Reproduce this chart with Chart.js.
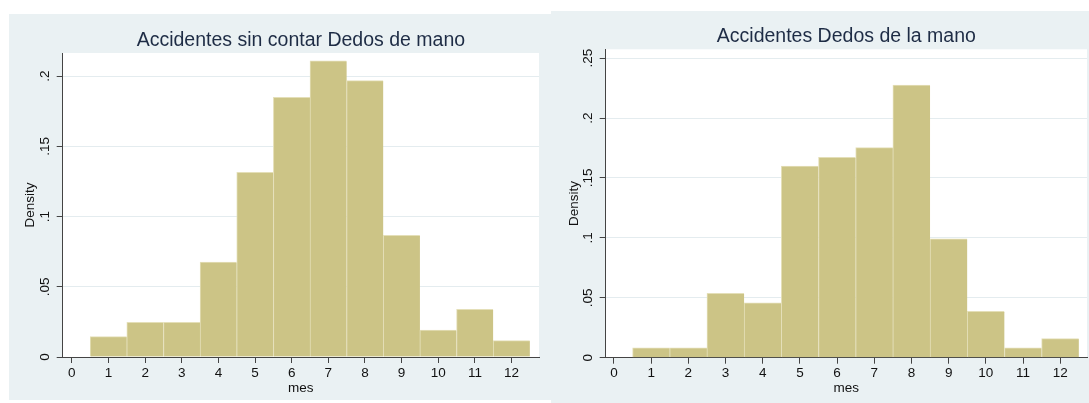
<!DOCTYPE html>
<html>
<head>
<meta charset="utf-8">
<script src="https://cdn.jsdelivr.net/npm/chart.js@4.4.1/dist/chart.umd.min.js"></script>
<style>
  html, body { margin: 0; padding: 0; background: #ffffff; width: 1089px; height: 403px; overflow: hidden; }
  .panel { position: absolute; background: #EAF1F3; }
  #p1 { left: 9px; top: 14px; width: 542px; height: 386px; }
  #p2 { left: 551px; top: 11px; width: 538px; height: 392px; }
  canvas { display: block; }
</style>
</head>
<body>
<div class="panel" id="p1"><canvas id="c1" width="542" height="386"></canvas></div>
<div class="panel" id="p2"><canvas id="c2" width="538" height="392"></canvas></div>
<script>
// Histogram bins: one bar per month (bin width 1, centred on the month number)
const months = [1, 2, 3, 4, 5, 6, 7, 8, 9, 10, 11, 12];

// Density per month, accidents excluding hand fingers
const densitySinDedos = [0.0145, 0.0247, 0.0247, 0.0676, 0.1314, 0.1848, 0.2109, 0.1967, 0.0866, 0.0192, 0.0339, 0.0116];

// Density per month, hand-finger accidents
const densityDedos = [0.0083, 0.0083, 0.0537, 0.0459, 0.1600, 0.1673, 0.1753, 0.2276, 0.0993, 0.0387, 0.0083, 0.0159];

// Axis ticks and their labels
const xTicks = [0, 1, 2, 3, 4, 5, 6, 7, 8, 9, 10, 11, 12];
const yTicksSinDedos = [0, 0.05, 0.1, 0.15, 0.2];
const yTickLabelsSinDedos = ['0', '.05', '.1', '.15', '.2'];
const yTicksDedos = [0, 0.05, 0.1, 0.15, 0.2, 0.25];
const yTickLabelsDedos = ['0', '.05', '.1', '.15', '.2', '.25'];

const titleSinDedos = 'Accidentes sin contar Dedos de mano';
const titleDedos = 'Accidentes Dedos de la mano';
const xTitle = 'mes';
const yTitle = 'Density';

// Styling
const FONT = '"Liberation Sans", Arial, sans-serif';
const BAR_FILL = '#CCC486';
const BAR_EDGE = '#E4DFB8';
const AXIS = '#444444';
const GRID = '#E4ECEF';
const TEXT = '#111111';
const TITLE_COLOR = '#1E2C45';

// White plot region behind the bars
const plotBg = {
  id: 'plotBg',
  beforeDraw(chart) {
    const { ctx, chartArea: a } = chart;
    ctx.save();
    ctx.fillStyle = '#ffffff';
    ctx.fillRect(a.left, a.top, a.right - a.left, a.bottom - a.top);
    ctx.restore();
  }
};

function makeHistogram(canvasId, title, values, yTicks, yLabels, g) {
  return new Chart(document.getElementById(canvasId), {
    type: 'bar',
    data: {
      datasets: [{
        data: months.map((m, i) => ({ x: m, y: values[i] })),
        backgroundColor: BAR_FILL,
        borderColor: BAR_EDGE,
        borderWidth: { top: 1, left: 1, right: 0, bottom: 0 },
        barPercentage: 1,
        categoryPercentage: 1
      }]
    },
    options: {
      responsive: false,
      animation: false,
      devicePixelRatio: 1,
      layout: { padding: { top: g.padTop, left: 0, right: g.padRight, bottom: 0 } },
      plugins: {
        legend: { display: false },
        tooltip: { enabled: false },
        title: {
          display: true,
          text: title,
          fullSize: false,
          color: TITLE_COLOR,
          font: { family: FONT, size: 19.5, weight: 'normal' },
          padding: { top: 0, bottom: g.titleGap }
        }
      },
      scales: {
        x: {
          type: 'linear',
          offset: false,
          min: g.xMin,
          max: g.xMax,
          afterBuildTicks: s => { s.ticks = xTicks.map(v => ({ value: v })); },
          afterFit: s => { s.height = g.xAxisH; },
          grid: { display: true, offset: false, drawOnChartArea: false, drawTicks: true, tickLength: 6, tickColor: AXIS, tickWidth: 1 },
          border: { display: true, color: AXIS, width: 1 },
          ticks: {
            color: TEXT, font: { family: FONT, size: 13.5 }, padding: g.xTickPad,
            maxRotation: 0, minRotation: 0, autoSkip: false,
            callback: v => String(v)
          },
          title: {
            display: true, text: xTitle, color: TEXT,
            font: { family: FONT, size: 13.5 }, padding: { top: 0, bottom: g.xTitlePad }
          }
        },
        y: {
          min: 0,
          max: g.yMax,
          afterBuildTicks: s => { s.ticks = yTicks.map(v => ({ value: v })); },
          afterFit: s => { s.width = g.yAxisW; },
          grid: { color: GRID, lineWidth: 1, drawTicks: true, tickLength: 6, tickColor: AXIS, tickWidth: 1 },
          border: { display: true, color: AXIS, width: 1 },
          ticks: {
            color: TEXT, font: { family: FONT, size: 13.5 }, padding: g.yTickPad,
            minRotation: 90, maxRotation: 90, crossAlign: 'center', autoSkip: false,
            callback: v => yLabels[yTicks.indexOf(v)]
          },
          title: {
            display: true, text: yTitle, color: TEXT,
            font: { family: FONT, size: 13.5 }, padding: { top: g.yTitlePad, bottom: 0 }
          }
        }
      }
    },
    plugins: [plotBg]
  });
}

makeHistogram('c1', titleSinDedos, densitySinDedos, yTicksSinDedos, yTickLabelsSinDedos, {
  padTop: 15.3, titleGap: 0.3, padRight: 12,
  xMin: -0.25, xMax: 12.75, yMax: 0.2164,
  xAxisH: 43, xTickPad: 2.2, xTitlePad: 3.9,
  yAxisW: 53.7, yTickPad: 2.4, yTitlePad: 12.9
});

makeHistogram('c2', titleDedos, densityDedos, yTicksDedos, yTickLabelsDedos, {
  padTop: 14.3, titleGap: 0.6, padRight: 2,
  xMin: -0.223, xMax: 12.72, yMax: 0.2574,
  xAxisH: 45.3, xTickPad: 1.5, xTitlePad: 6.6,
  yAxisW: 54.7, yTickPad: 2.1, yTitlePad: 14.9
});
</script>
</body>
</html>
